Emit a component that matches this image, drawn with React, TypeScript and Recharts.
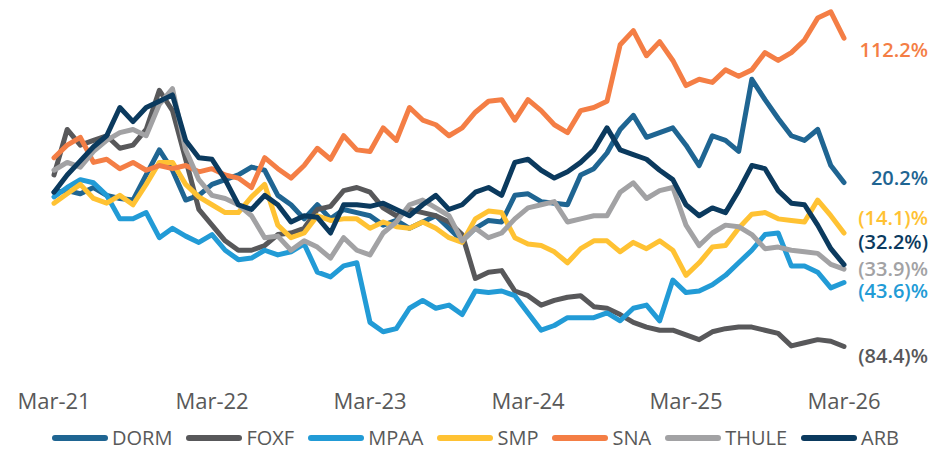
import React from 'react';
import { LineChart, Line, XAxis, YAxis, Legend } from 'recharts';

// Month index 0 = Mar-21 ... 60 = Mar-26; values = cumulative return (%)
const TICK_MONTHS = [0, 12, 24, 36, 48, 60];
const TICK_LABELS = ['Mar-21', 'Mar-22', 'Mar-23', 'Mar-24', 'Mar-25', 'Mar-26'];

const DORM = [14, 15, 13, 17, 12, 10, 9, 25, 41, 28, 9, 12, 19, 22, 25, 30, 28, 12, 6, -3, 6, -3, 3, 1, -1, -7, -4, -9, -5, -1, -9, -17, -9, -4, -5, 12, 13, 8, 7, 6, 25, 29, 39, 54, 63, 49, 52, 55, 44, 31, 50, 47, 40, 86, 73, 61, 50, 47, 54, 31, 20.2];
const FOXF = [25, 54, 44, 47, 50, 42, 44, 54, 79, 66, 35, 3, -7, -17, -23, -23, -20, -13, -12, -9, 3, 5, 15, 17, 14, 4, -1, 3, 1, -1, -5, -13, -41, -37, -36, -49, -52, -58, -55, -53, -52, -59, -60, -64, -69, -72, -74, -74, -77, -80, -75, -73, -72, -72, -74, -76, -84, -82, -80, -81, -84.4];
const MPAA = [11, 17, 22, 20, 12, -3, -3, 1, -15, -9, -14, -18, -13, -23, -29, -28, -23, -26, -24, -19, -37, -40, -33, -31, -69, -75, -73, -60, -55, -60, -58, -64, -49, -50, -49, -52, -63, -74, -71, -66, -66, -66, -63, -68, -60, -58, -68, -42, -50, -49, -45, -39, -31, -23, -13, -12, -33, -33, -37, -47, -43.6];
const SMP = [7, 13, 19, 10, 7, 12, 6, 19, 33, 33, 19, 11, 6, 1, 1, 11, 19, -7, -15, -12, -1, -4, -3, -3, -9, -5, -8, -9, -5, -9, -15, -18, -3, 2, 1, -15, -19, -20, -24, -31, -22, -17, -17, -24, -18, -22, -17, -23, -39, -31, -21, -20, -9, 0, 1, -3, -4, -5, 9, -1, -12];
const SNA = [36, 44, 49, 33, 35, 29, 33, 28, 31, 29, 31, 27, 29, 25, 23, 17, 36, 29, 23, 31, 42, 35, 50, 41, 40, 55, 47, 68, 60, 57, 50, 55, 65, 72, 73, 60, 73, 66, 57, 52, 66, 68, 72, 108, 117, 101, 110, 98, 82, 86, 84, 92, 88, 92, 103, 98, 103, 111, 125, 129, 112.2];
const THULE = [28, 33, 30, 40, 47, 52, 54, 50, 70, 80, 41, 22, 12, 10, 6, -1, -15, -14, -23, -17, -21, -28, -15, -23, -26, -12, -5, 6, 9, 4, -1, -17, -9, -15, -12, -3, 4, 6, 8, -5, -3, -1, -1, 14, 20, 10, 15, 17, -7, -20, -12, -7, -8, -13, -22, -21, -23, -24, -25, -32, -35];
const ARB = [14, 25, 34, 43, 50, 68, 59, 68, 72, 76, 47, 36, 35, 22, 6, 3, 12, 6, -5, -1, -2, -12, 6, 6, 5, 7, 3, -1, 6, 12, 3, 6, 14, 17, 12, 33, 35, 28, 23, 27, 33, 41, 55, 41, 38, 35, 28, 22, 6, -1, 4, 1, 15, 31, 29, 15, 7, 6, -7, -22, -32.2];

const SERIES_NAMES = ['DORM', 'FOXF', 'MPAA', 'SMP', 'SNA', 'THULE', 'ARB'];
const SERIES_VALUES = [DORM, FOXF, MPAA, SMP, SNA, THULE, ARB];
const END_LABELS = ['20.2%', '(84.4)%', '(43.6)%', '(14.1)%', '112.2%', '(33.9)%', '(32.2%)'];

const COLORS = ['#1F6592', '#58585A', '#229BD6', '#FFC233', '#F47E45', '#A2A2A4', '#0B3A5E'];
const LABEL_DY = [-5, 9, 8, -15, 11, -1, -23];

const FONT = '"Open Sans", sans-serif';
const TEXT_GRAY = '#595959';

const rows = DORM.map((_, i) => {
  const r: Record<string, number> = { m: i };
  SERIES_NAMES.forEach((n, k) => {
    r[n] = SERIES_VALUES[k][i];
  });
  return r;
});
const LAST = DORM.length - 1;

const makeEndLabel = (k: number) => (props: any) => {
  const { cx, cy, index } = props;
  if (index !== LAST) return <g key={`e-${k}-${index}`} />;
  return (
    <text
      key={`e-${k}-${index}`}
      x={cx + 84}
      y={cy + LABEL_DY[k]}
      textAnchor="end"
      dominantBaseline="central"
      fill={COLORS[k]}
      fontFamily={FONT}
      fontSize={20}
      fontWeight={600}
    >
      {END_LABELS[k]}
    </text>
  );
};

const LegendContent = () => (
  <div
    style={{
      display: 'flex',
      justifyContent: 'center',
      alignItems: 'center',
      fontFamily: FONT,
      fontSize: 20,
      color: TEXT_GRAY,
      lineHeight: '28px',
    }}
  >
    {SERIES_NAMES.map((n, k) => (
      <div key={n} style={{ display: 'flex', alignItems: 'center', marginRight: k < SERIES_NAMES.length - 1 ? 14 : 0 }}>
        <svg width={56} height={8} style={{ display: 'block' }}>
          <line x1={3} y1={4} x2={53} y2={4} stroke={COLORS[k]} strokeWidth={6} strokeLinecap="round" />
        </svg>
        <span style={{ marginLeft: 4 }}>{n}</span>
      </div>
    ))}
  </div>
);

export default function App() {
  return (
    <div style={{ position: 'absolute', left: 0, top: 0, width: 951, height: 450, background: '#fff' }}>
      <LineChart width={951} height={450} data={rows} margin={{ top: 4, right: 107, bottom: 0, left: 54 }}>
        <XAxis
          dataKey="m"
          type="number"
          domain={[0, 60]}
          ticks={TICK_MONTHS}
          tickFormatter={(v: number) => TICK_LABELS[TICK_MONTHS.indexOf(v)]}
          axisLine={false}
          tickLine={false}
          tickSize={8}
          tickMargin={14}
          height={79}
          interval={0}
          tick={{ fontFamily: FONT, fontSize: 22, fill: TEXT_GRAY }}
        />
        <YAxis hide type="number" domain={[-100, 134]} />
        <Legend
          verticalAlign="middle"
          align="center"
          wrapperStyle={{ left: 0, top: 424, width: 951 }}
          content={() => <LegendContent />}
        />
        {SERIES_NAMES.map((n, k) => (
          <Line
            key={n}
            dataKey={n}
            type="linear"
            stroke={COLORS[k]}
            strokeWidth={5}
            strokeLinejoin="round"
            strokeLinecap="round"
            dot={makeEndLabel(k)}
            activeDot={false}
            isAnimationActive={false}
          />
        ))}
      </LineChart>
    </div>
  );
}
